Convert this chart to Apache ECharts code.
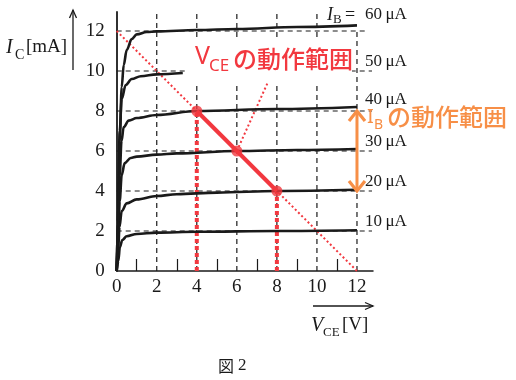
<!DOCTYPE html>
<html><head><meta charset="utf-8">
<script src="https://cdn.jsdelivr.net/npm/echarts@6/dist/echarts.min.js"></script>
<style>html,body{margin:0;padding:0;background:#fff}#c{width:516px;height:380px}</style>
</head><body><div id="c"></div>
<script>
// ---- data ----
const xLabelVals = [0, 2, 4, 6, 8, 10, 12];
const yLabelVals = [0, 2, 4, 6, 8, 10, 12];
const xMinorTicks = [1, 3, 5, 7, 9, 11];
const gridXs = [2, 4, 6, 8, 10, 12];
const gridXTops = [12.95, 12.95, 12.95, 12.95, 12.95, 12];
const gridYs = [2, 4, 6, 8, 10, 12];
const gridYEnds = [12.75, 12.75, 12.75, 12.75, 12.75, 12.4];
const ibNames = ['10', '20', '30', '40', '50', '60'];
const ibLabelY = [2.47, 4.47, 6.47, 8.55, 10.45, 12.8];
const curve10 = [[0,0],[0.08,0.5],[0.16,1.2],[0.28,1.55],[0.5,1.74],[1,1.85],[2,1.92],[4,1.96],[8,2.0],[12,2.04]];
const curve20 = [[0,0],[0.07,1],[0.14,2.2],[0.25,3.0],[0.5,3.38],[1,3.58],[2,3.75],[3,3.84],[5,3.92],[8,4.0],[12,4.06]];
const curve30 = [[0,0],[0.07,1.5],[0.15,3.5],[0.25,4.8],[0.4,5.4],[0.7,5.65],[1,5.72],[2,5.82],[3,5.88],[6,6.0],[9,6.05],[12,6.1]];
const curve40 = [[0,0],[0.06,1.8],[0.15,4.8],[0.24,6.5],[0.35,7.2],[0.6,7.52],[1,7.65],[2,7.8],[4,8.0],[8,8.1],[12,8.2]];
const curve50 = [[0,0],[0.06,2.5],[0.15,7.0],[0.25,8.6],[0.45,9.3],[0.75,9.6],[1.2,9.74],[2,9.83],[3.3,9.9]];
const curve60 = [[0,0],[0.06,2.5],[0.15,6.5],[0.25,9.2],[0.35,10.3],[0.5,11.05],[0.75,11.6],[1,11.83],[1.5,11.95],[2,11.98],[4,12.05],[6,12.1],[9,12.2],[12,12.28]];
const loadLine = [[0, 12], [12, 0]];
const opSegment = [[4, 8], [8, 4]];
const opPoints = [[4, 8], [6, 6], [8, 4]];
const opDropLeft = [[4, 0], [4, 8]];
const opDropRight = [[8, 0], [8, 4]];
const pointerLine = [[6, 6], [7.6, 9.55]];
const ibRange = [[12, 8], [12, 4]];

const RED = '#F2383F';
const ORANGE = '#F78F47';
const BLACK = '#1a1a1a';
const SERIF = '"Liberation Serif", "DejaVu Serif", serif';
const SANSJ = '"Noto Sans CJK JP", "Noto Sans", sans-serif';

const chart = echarts.init(document.getElementById('c'), null, {renderer: 'canvas'});
const series = [];
gridXs.forEach((x, i) => series.push({
  type: 'line', data: [[x, 0], [x, gridXTops[i]]], symbol: 'none', silent: true, z: 1,
  lineStyle: {color: BLACK, width: 1.2, type: [5, 4]}
}));
gridYs.forEach((y, i) => series.push({
  type: 'line', data: [[0, y], [gridYEnds[i], y]], symbol: 'none', silent: true, z: 1,
  lineStyle: {color: BLACK, width: 1.2, type: [5, 4]}
}));
[opDropLeft, opDropRight].forEach(d => series.push({
  type: 'line', data: d, symbol: 'none', silent: true, z: 3,
  lineStyle: {color: RED, width: 4, type: [4, 3]}
}));
series.push({type: 'line', data: loadLine, symbol: 'none', silent: true, z: 3,
  lineStyle: {color: RED, width: 2, type: [2, 2.5]}});
series.push({type: 'line', data: pointerLine, symbol: 'none', silent: true, z: 3,
  lineStyle: {color: RED, width: 2, type: [2, 2.5]}});
[curve10, curve20, curve30, curve40, curve50, curve60].forEach(d => series.push({
  type: 'line', data: d, symbol: 'none', silent: true, z: 4, smooth: 0.35, smoothMonotone: 'x',
  lineStyle: {color: BLACK, width: 2.6}
}));
series.push({type: 'line', data: opSegment, symbol: 'none', silent: true, z: 5,
  lineStyle: {color: RED, width: 4}});
series.push({type: 'scatter', data: opPoints, symbol: 'circle', symbolSize: 11, silent: true, z: 6,
  itemStyle: {color: RED}});
series.push({type: 'line', data: ibRange, symbol: 'none', silent: true, z: 6,
  lineStyle: {color: ORANGE, width: 3}});

chart.setOption({
  animation: false,
  backgroundColor: '#fff',
  grid: {left: 116.7, right: 143, top: 12, bottom: 109, containLabel: false},
  xAxis: {
    type: 'value', min: 0, max: 12.8, interval: 1,
    axisLine: {show: true, lineStyle: {color: BLACK, width: 1.5}},
    axisTick: {show: true, inside: true, length: 12, customValues: xMinorTicks, lineStyle: {color: BLACK, width: 1.2}},
    axisLabel: {customValues: xLabelVals, color: BLACK, fontFamily: SERIF, fontSize: 19, margin: 7},
    splitLine: {show: false}
  },
  yAxis: {
    type: 'value', min: 0, max: 12.95, interval: 2,
    axisLine: {show: true, lineStyle: {color: BLACK, width: 1.8}},
    axisTick: {show: false},
    axisLabel: {customValues: yLabelVals, color: BLACK, fontFamily: SERIF, fontSize: 19, margin: 12},
    splitLine: {show: false}
  },
  series: series
});

// ---- annotations anchored through the axes ----
const px = (p) => chart.convertToPixel({gridIndex: 0}, p);
const g = [];
// white box behind the V_CE label
g.push({type: 'rect', z: 100, shape: {x: 186, y: 40, width: 166, height: 42}, style: {fill: '#fff'}});
// V_CE の動作範囲
g.push({type: 'text', z: 101, x: 195, y: 69, style: {text: 'V', font: '25px "Noto Sans"', fill: RED, verticalAlign: 'bottom'}});
g.push({type: 'text', z: 101, x: 209, y: 75, style: {text: 'CE', font: '17px "Noto Sans"', fill: RED, verticalAlign: 'bottom'}});
g.push({type: 'text', z: 101, x: 233, y: 59, style: {text: 'の動作範囲', font: '500 24px ' + SANSJ, fill: RED, verticalAlign: 'middle'}});
// I_B の動作範囲
g.push({type: 'text', z: 101, x: 367, y: 127, style: {text: 'I', font: '20px "Noto Sans"', fill: ORANGE, verticalAlign: 'bottom'}});
g.push({type: 'text', z: 101, x: 374, y: 132, style: {text: 'B', font: '14px "Noto Sans"', fill: ORANGE, verticalAlign: 'bottom'}});
g.push({type: 'text', z: 101, x: 387, y: 117, style: {text: 'の動作範囲', font: '500 24px ' + SANSJ, fill: ORANGE, verticalAlign: 'middle'}});
// orange arrow heads
const aTop = px(ibRange[0]), aBot = px(ibRange[1]);
g.push({type: 'polyline', z: 101, shape: {points: [[aTop[0] - 8, aTop[1] + 10], [aTop[0], aTop[1]], [aTop[0] + 8, aTop[1] + 10]]},
  style: {stroke: ORANGE, lineWidth: 3.2, fill: null}});
g.push({type: 'polyline', z: 101, shape: {points: [[aBot[0] - 8, aBot[1] - 10], [aBot[0], aBot[1]], [aBot[0] + 8, aBot[1] - 10]]},
  style: {stroke: ORANGE, lineWidth: 3.2, fill: null}});
// I_B labels
ibNames.forEach((n, i) => {
  const p = px([12.4, ibLabelY[i]]);
  if (n === '60') {
    g.push({type: 'text', z: 101, x: 327, y: p[1], style: {text: 'I', font: 'italic 18px ' + SERIF, fill: BLACK, verticalAlign: 'middle'}});
    g.push({type: 'text', z: 101, x: 333, y: p[1] + 5, style: {text: 'B', font: '13px ' + SERIF, fill: BLACK, verticalAlign: 'middle'}});
    g.push({type: 'text', z: 101, x: 345, y: p[1], style: {text: '=', font: '18px ' + SERIF, fill: BLACK, verticalAlign: 'middle'}});
  }
  g.push({type: 'text', z: 101, x: 365, y: p[1], style: {text: n + '\u2009\u03bcA', font: '17px ' + SERIF, fill: BLACK, verticalAlign: 'middle'}});
});
// I_C axis name + arrow
g.push({type: 'text', z: 101, x: 6, y: 48, style: {text: 'I', font: 'italic 20px ' + SERIF, fill: BLACK, verticalAlign: 'middle'}});
g.push({type: 'text', z: 101, x: 15, y: 55, style: {text: 'C', font: '14px ' + SERIF, fill: BLACK, verticalAlign: 'middle'}});
g.push({type: 'text', z: 101, x: 26, y: 47, style: {text: '[mA]', font: '19px ' + SERIF, fill: BLACK, verticalAlign: 'middle'}});
g.push({type: 'line', z: 101, shape: {x1: 73, y1: 70, x2: 73, y2: 10}, style: {stroke: BLACK, lineWidth: 1.3}});
g.push({type: 'polyline', z: 101, shape: {points: [[69.5, 18], [73, 10], [76.5, 18]]}, style: {stroke: BLACK, lineWidth: 1.3, fill: null}});
// V_CE axis name + arrow
g.push({type: 'line', z: 101, shape: {x1: 313, y1: 306, x2: 373, y2: 306}, style: {stroke: BLACK, lineWidth: 1.3}});
g.push({type: 'polyline', z: 101, shape: {points: [[365, 302.5], [373, 306], [365, 309.5]]}, style: {stroke: BLACK, lineWidth: 1.3, fill: null}});
g.push({type: 'text', z: 101, x: 311, y: 326, style: {text: 'V', font: 'italic 20px ' + SERIF, fill: BLACK, verticalAlign: 'middle'}});
g.push({type: 'text', z: 101, x: 323, y: 333, style: {text: 'CE', font: '13px ' + SERIF, fill: BLACK, verticalAlign: 'middle'}});
g.push({type: 'text', z: 101, x: 342, y: 325, style: {text: '[V]', font: '19px ' + SERIF, fill: BLACK, verticalAlign: 'middle'}});
// figure caption
g.push({type: 'text', z: 101, x: 218, y: 366, style: {text: '図', font: '16px "Noto Sans CJK JP"', fill: BLACK, verticalAlign: 'middle'}});
g.push({type: 'text', z: 101, x: 238, y: 366, style: {text: '2', font: '17px ' + SERIF, fill: BLACK, verticalAlign: 'middle'}});
chart.setOption({graphic: {elements: g}});
</script>
</body></html>
